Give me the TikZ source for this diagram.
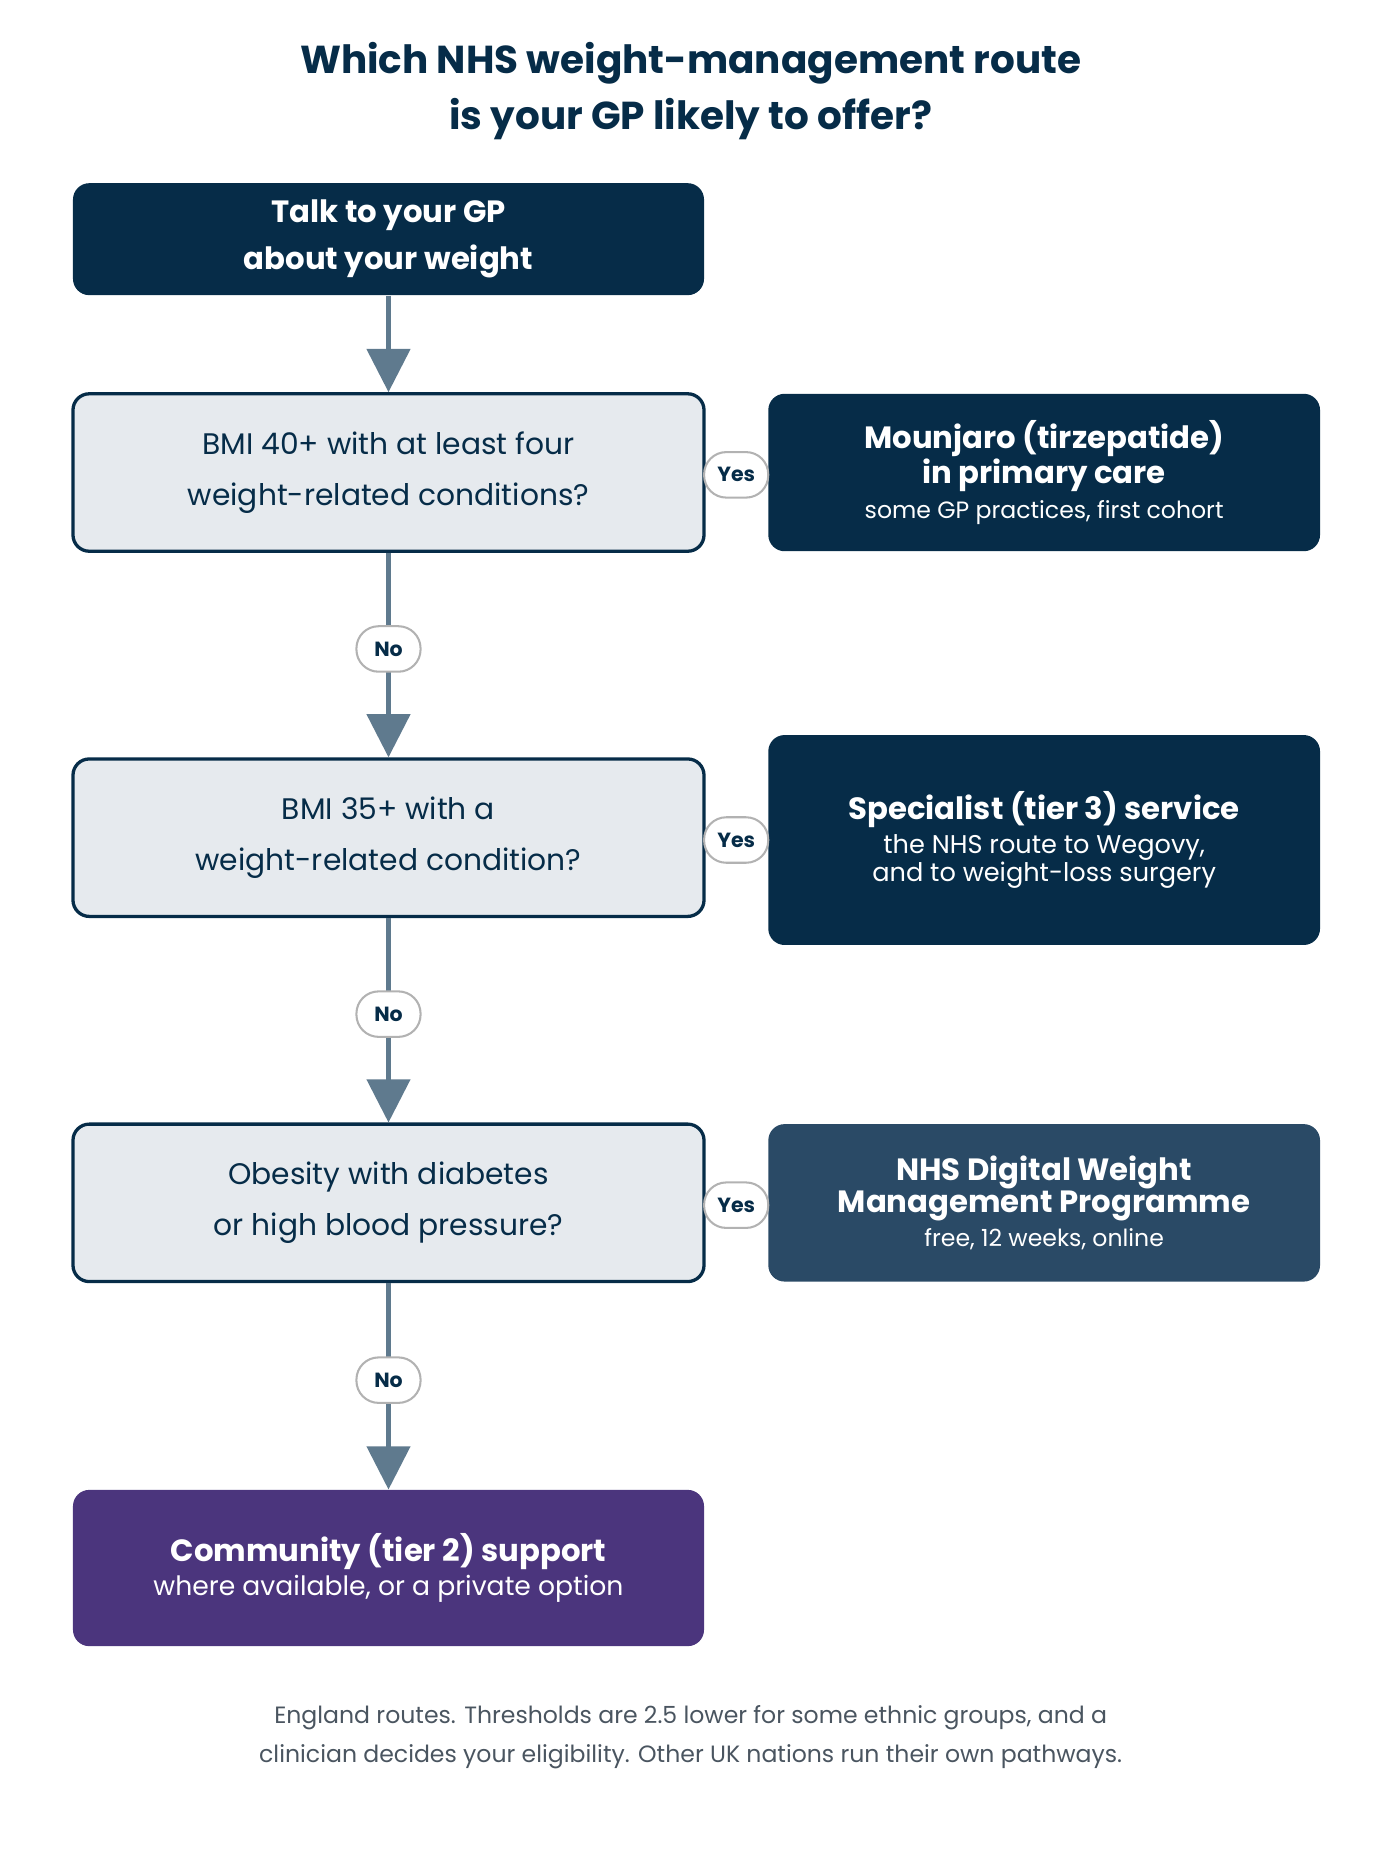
\documentclass[tikz,border=0pt]{standalone}
\usepackage{fontspec}
\setmainfont{Poppins}
\usetikzlibrary{arrows.meta}
\definecolor{navy}{HTML}{062C48}
\definecolor{slate}{HTML}{2A4A66}
\definecolor{plum}{HTML}{4B357D}
\definecolor{pale}{HTML}{E6EAEE}
\definecolor{flow}{HTML}{5F7A8E}
\definecolor{note}{HTML}{4A5560}
\begin{document}
\begin{tikzpicture}[x=0.02cm,y=-0.02cm,
  box/.style={rounded corners=0.28cm,align=center,inner sep=0pt},
  dark/.style={box,fill=navy,text=white},
  ask/.style={box,fill=pale,draw=navy,line width=1.6pt,text=navy,font=\fontsize{14.5}{25}\selectfont},
  pill/.style={fill=white,draw=gray!60,line width=1pt,rounded corners=0.38cm,text=navy,
    font=\fontsize{10}{12}\selectfont\bfseries,minimum width=1.1cm,minimum height=0.78cm,inner sep=0pt},
  flowline/.style={draw=flow,line width=2pt,-{Triangle[width=0.74cm,length=0.74cm]}},
  head/.style={font=\fontsize{15}{23}\selectfont\bfseries},
  sub/.style={font=\fontsize{11.5}{19}\selectfont}]
\useasboundingbox (0,0) rectangle (1200,1590);
% title
\node[text=navy,align=center,font=\fontsize{19}{27}\selectfont\bfseries] (title) at (592,78)
  {Which NHS weight-management route\\is your GP likely to offer?};
% left column
\node[dark,minimum width=10.82cm,minimum height=1.92cm,head] (gp) at (333,205)
  {Talk to your GP\\about your weight};
\node[ask,minimum width=10.82cm,minimum height=2.7cm] (q1) at (333,405)
  {BMI 40+ with at least four\\weight-related conditions?};
\node[ask,minimum width=10.82cm,minimum height=2.7cm] (q2) at (333,718)
  {BMI 35+ with a\\weight-related condition?};
\node[ask,minimum width=10.82cm,minimum height=2.7cm] (q3) at (333,1031)
  {Obesity with diabetes\\or high blood pressure?};
\node[box,fill=plum,text=white,minimum width=10.82cm,minimum height=2.68cm] (tier2) at (333,1344)
  {{\fontsize{15}{23}\selectfont\bfseries Community (tier 2) support}\\[2pt]
   {\fontsize{13}{20}\selectfont where available, or a private option}};
% right column
\node[dark,minimum width=9.46cm,minimum height=2.7cm] (mounjaro) at (895,405)
  {{\fontsize{15}{21}\selectfont\bfseries Mounjaro (tirzepatide)}\\
   {\fontsize{15}{21}\selectfont\bfseries in primary care}\\[3pt]
   {\fontsize{11.5}{15}\selectfont some GP practices, first cohort}};
\node[dark,minimum width=9.46cm,minimum height=3.6cm] (tier3) at (895,720)
  {{\fontsize{15}{23}\selectfont\bfseries Specialist (tier 3) service}\\[2pt]
   {\fontsize{12.5}{18}\selectfont the NHS route to Wegovy,}\\
   {\fontsize{12.5}{18}\selectfont and to weight-loss surgery}};
\node[box,fill=slate,text=white,minimum width=9.46cm,minimum height=2.7cm] (digital) at (895,1031)
  {{\fontsize{15}{20}\selectfont\bfseries NHS Digital Weight}\\
   {\fontsize{15}{20}\selectfont\bfseries Management Programme}\\[3pt]
   {\fontsize{11.5}{15}\selectfont free, 12 weeks, online}};
% connectors
\draw[flowline] (gp.south) -- (q1.north);
\draw[flowline] (q1.south) -- node[pill,pos=0.47] (no1) {No} (q2.north);
\draw[flowline] (q2.south) -- node[pill,pos=0.47] (no2) {No} (q3.north);
\draw[flowline] (q3.south) -- node[pill,pos=0.47] (no3) {No} (tier2.north);
\node[pill] (yes1) at (631,407) {Yes};
\node[pill] (yes2) at (631,720) {Yes};
\node[pill] (yes3) at (631,1033) {Yes};
% footnote
\node[text=note,align=center,font=\fontsize{11.5}{19}\selectfont] (foot) at (592,1489)
  {England routes. Thresholds are 2.5 lower for some ethnic groups, and a\\
   clinician decides your eligibility. Other UK nations run their own pathways.};
\end{tikzpicture}
\end{document}
